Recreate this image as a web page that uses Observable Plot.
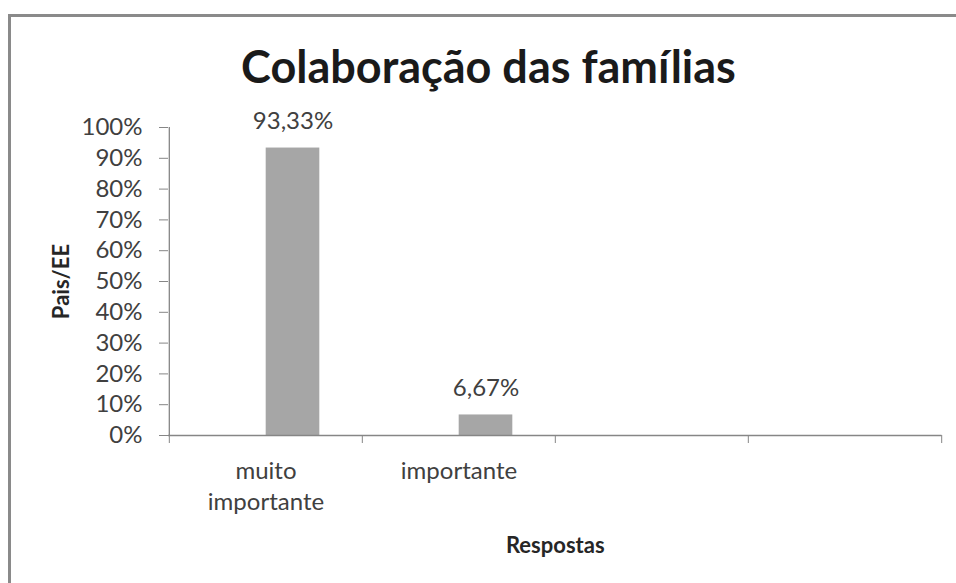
<!DOCTYPE html>
<html>
<head>
<meta charset="utf-8">
<script src="https://cdn.jsdelivr.net/npm/d3@7"></script>
<script src="https://cdn.jsdelivr.net/npm/@observablehq/plot@0.6"></script>
<style>
  html, body { margin: 0; padding: 0; background: #fff; }
  #card {
    position: absolute; left: 8px; top: 14px;
    width: 945px; height: 566px;
    border-top: 3px solid #8a8a8a; border-left: 3px solid #8a8a8a;
    font-family: Lato, sans-serif;
  }
  #title {
    box-sizing: border-box; height: 90px; margin-left: 10px; width: 935px;
    padding-top: 24px; line-height: 50px; font-size: 45px; font-weight: bold;
    text-align: center; color: #1a1a1a; white-space: nowrap;
  }
</style>
</head>
<body>
<div id="card">
  <div id="title">Colaboração das famílias</div>
  <div id="chart"></div>
</div>
<script>
// ---- data ----
const categories = ["muito importante", "importante", "", " "];
const tickLabels = ["muito\nimportante", "importante", "", ""];
const barCategories = ["muito importante", "importante"];
const barValues = [0.9333, 0.0667];
const yTicks = [0, 0.1, 0.2, 0.3, 0.4, 0.5, 0.6, 0.7, 0.8, 0.9, 1.0];
const yLabel = "Pais/EE";
const xLabel = "Respostas";

const data = barCategories.map((c, i) => ({category: c, value: barValues[i]}));

const W = 945, H = 476, ML = 157, MR = 14.5, MT = 20, MB = 148;
const bw = (W - ML - MR) / categories.length;
const barW = 54;
const axisColor = "#868686";
const pt = d3.formatLocale({decimal: ",", thousands: ".", grouping: [3], currency: ["", "€"]}).format(".2%");

const chart = Plot.plot({
  width: W, height: H,
  marginLeft: ML, marginRight: MR, marginTop: MT, marginBottom: MB,
  style: {fontFamily: "Lato, sans-serif", fontSize: "24px", color: "#404040", background: "transparent", overflow: "visible"},
  x: {type: "band", domain: categories, padding: 0, axis: null},
  y: {domain: [0, 1], axis: null},
  marks: [
    Plot.barY(data, {x: "category", y: "value", fill: "#a6a6a6", insetLeft: bw / 2, insetRight: bw / 2 - barW}),
    Plot.ruleY([0], {stroke: axisColor, strokeWidth: 1.3}),
    Plot.ruleX([categories[0]], {y1: 0, y2: 1, dx: -bw / 2, stroke: axisColor, strokeWidth: 1.3}),
    Plot.axisY(yTicks, {tickSize: 9, tickPadding: 17, tickFormat: d3.format(".0%"), stroke: axisColor, fill: "#404040", label: null}),
    Plot.axisX(categories, {tickSize: 8, dx: -bw / 2, tickFormat: () => "", stroke: axisColor, label: null}),
    Plot.axisX([categories[categories.length - 1]], {tickSize: 8, dx: bw / 2, tickFormat: () => "", stroke: axisColor, label: null}),
    Plot.axisX(categories, {tickSize: 0, tickPadding: 21, lineHeight: 1.3, tickFormat: d => tickLabels[categories.indexOf(d)], fill: "#404040", label: null}),
    Plot.text(data, {x: "category", y: "value", text: d => pt(d.value), dx: 27, dy: -27, fill: "#404040"}),
    Plot.text([yLabel], {frameAnchor: "left", textAnchor: "middle", rotate: -90, dx: -107, fontWeight: "bold", fontSize: 22, fill: "#262626"}),
    Plot.text([xLabel], {frameAnchor: "bottom", dy: 117, fontWeight: "bold", fontSize: 22, fill: "#262626"})
  ]
});
document.getElementById("chart").appendChild(chart);
</script>
</body>
</html>
